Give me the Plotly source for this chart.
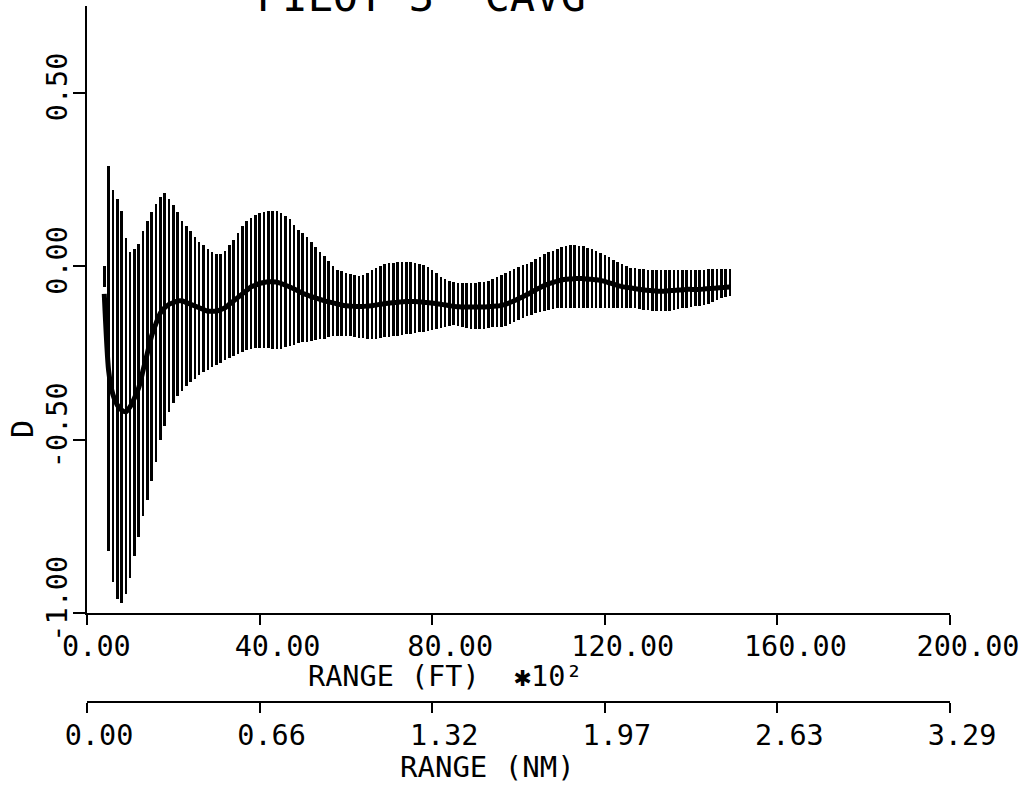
import plotly.graph_objects as go

# Range (ft x 10^2) of each sample
range_ft = list(range(4, 150))

# Upper end of each vertical bar
upper = [
    0.00, 0.29, 0.22, 0.195, 0.16, 0.08, 0.04, 0.05, 0.065, 0.10,
    0.13, 0.155, 0.18, 0.20, 0.21, 0.195, 0.175, 0.155, 0.13, 0.115,
    0.10, 0.085, 0.07, 0.06, 0.05, 0.04, 0.035, 0.035, 0.045, 0.06,
    0.075, 0.095, 0.115, 0.13, 0.14, 0.148, 0.152, 0.156, 0.16, 0.16,
    0.158, 0.152, 0.145, 0.135, 0.12, 0.105, 0.095, 0.085, 0.07, 0.055,
    0.04, 0.03, 0.015, 0.0, -0.01, -0.015, -0.02, -0.022, -0.025, -0.028,
    -0.025, -0.02, -0.012, -0.005, 0.0, 0.005, 0.008, 0.01, 0.012, 0.013,
    0.012, 0.012, 0.01, 0.006, 0.002, -0.003, -0.01, -0.02, -0.03, -0.038,
    -0.042, -0.046, -0.048, -0.05, -0.05, -0.05, -0.049, -0.047, -0.045, -0.042,
    -0.037, -0.032, -0.026, -0.02, -0.014, -0.008, -0.003, 0.002, 0.007, 0.012,
    0.02, 0.027, 0.034, 0.04, 0.045, 0.05, 0.054, 0.058, 0.06, 0.06,
    0.059, 0.057, 0.053, 0.049, 0.044, 0.038, 0.032, 0.025, 0.018, 0.012,
    0.006, 0.0, -0.004, -0.006, -0.008, -0.009, -0.01, -0.01, -0.011, -0.011,
    -0.012, -0.012, -0.012, -0.012, -0.011, -0.011, -0.01, -0.01, -0.01, -0.01,
    -0.009, -0.009, -0.009, -0.008, -0.008, -0.008,
]

# Lower end of each vertical bar
lower = [
    -0.06, -0.82, -0.91, -0.96, -0.97, -0.945, -0.90, -0.835, -0.78, -0.72,
    -0.675, -0.62, -0.565, -0.50, -0.46, -0.42, -0.395, -0.375, -0.36, -0.345,
    -0.335, -0.325, -0.315, -0.305, -0.30, -0.292, -0.285, -0.278, -0.27, -0.265,
    -0.258, -0.252, -0.247, -0.243, -0.24, -0.237, -0.235, -0.235, -0.236, -0.238,
    -0.24, -0.238, -0.234, -0.23, -0.226, -0.222, -0.22, -0.218, -0.215, -0.213,
    -0.211, -0.21, -0.205, -0.20, -0.20, -0.20, -0.20, -0.20, -0.203, -0.206,
    -0.208, -0.21, -0.21, -0.21, -0.208, -0.205, -0.203, -0.20, -0.20, -0.198,
    -0.196, -0.195, -0.193, -0.19, -0.19, -0.188, -0.185, -0.182, -0.178, -0.175,
    -0.172, -0.17, -0.172, -0.175, -0.178, -0.18, -0.18, -0.18, -0.18, -0.178,
    -0.176, -0.175, -0.175, -0.172, -0.168, -0.162, -0.156, -0.15, -0.145, -0.14,
    -0.135, -0.132, -0.128, -0.125, -0.123, -0.121, -0.12, -0.12, -0.12, -0.12,
    -0.12, -0.12, -0.12, -0.12, -0.12, -0.12, -0.12, -0.12, -0.12, -0.12,
    -0.12, -0.12, -0.12, -0.121, -0.123, -0.125, -0.127, -0.128, -0.13, -0.13,
    -0.13, -0.128, -0.126, -0.124, -0.122, -0.12, -0.118, -0.116, -0.115, -0.112,
    -0.108, -0.103, -0.098, -0.093, -0.088, -0.085,
]

# Average curve
mean = [
    -0.08, -0.30, -0.37, -0.40, -0.415, -0.42, -0.405, -0.38, -0.35, -0.30,
    -0.25, -0.20, -0.165, -0.135, -0.12, -0.11, -0.105, -0.10, -0.10, -0.105,
    -0.11, -0.115, -0.12, -0.125, -0.13, -0.13, -0.13, -0.125, -0.12, -0.11,
    -0.10, -0.09, -0.08, -0.07, -0.06, -0.055, -0.05, -0.047, -0.045, -0.045,
    -0.046, -0.05, -0.055, -0.06, -0.066, -0.072, -0.078, -0.083, -0.088, -0.092,
    -0.096, -0.10, -0.103, -0.106, -0.109, -0.112, -0.114, -0.115, -0.116, -0.116,
    -0.116, -0.115, -0.114, -0.112, -0.11, -0.108, -0.106, -0.105, -0.104, -0.103,
    -0.102, -0.102, -0.102, -0.103, -0.104, -0.105, -0.106, -0.108, -0.11, -0.112,
    -0.114, -0.116, -0.117, -0.118, -0.118, -0.118, -0.118, -0.118, -0.118, -0.117,
    -0.116, -0.115, -0.113, -0.11, -0.105, -0.10, -0.094, -0.088, -0.082, -0.075,
    -0.068, -0.062, -0.056, -0.051, -0.047, -0.043, -0.04, -0.038, -0.037, -0.036,
    -0.036, -0.036, -0.037, -0.038, -0.039, -0.041, -0.044, -0.048, -0.052, -0.056,
    -0.059, -0.061, -0.063, -0.065, -0.067, -0.069, -0.07, -0.071, -0.072, -0.072,
    -0.072, -0.071, -0.07, -0.069, -0.068, -0.067, -0.067, -0.067, -0.067, -0.066,
    -0.065, -0.064, -0.063, -0.062, -0.061, -0.06,
]

ft_ticks = [0, 40, 80, 120, 160, 200]
ft_labels = ["0.00", "40.00", "80.00", "120.00", "160.00", "200.00"]
nm_ticks = [0.0, 0.6583, 1.3166, 1.9749, 2.6332, 3.2916]
nm_labels = ["0.00", "0.66", "1.32", "1.97", "2.63", "3.29"]
d_ticks = [-1.0, -0.5, 0.0, 0.5]
d_labels = ["-1.00", "-0.50", "0.00", "0.50"]

FONT = "DejaVu Sans Mono"
NB = "\u00a0"

def pad(labels, n):
    return [s + NB * max(0, n - len(s)) for s in labels]

heights = [u - l for u, l in zip(upper, lower)]

fig = go.Figure()
fig.add_trace(go.Bar(
    x=range_ft, y=heights, base=lower, width=0.6,
    marker=dict(color="black", line=dict(width=0)),
    showlegend=False, hoverinfo="skip",
))
fig.add_trace(go.Scatter(
    x=range_ft, y=mean, mode="lines",
    line=dict(color="black", width=5, shape="spline", smoothing=0.6),
    showlegend=False, hoverinfo="skip",
))
# carrier for the secondary (nautical-mile) axis; draws nothing
fig.add_trace(go.Scatter(
    x=[nm_ticks[0], nm_ticks[-1]], y=[None, None], xaxis="x2", yaxis="y",
    mode="lines", showlegend=False, hoverinfo="skip",
))

W, H = 1034, 786
ml, mr, mt, mb = 87, 84, 6, 84
ph = H - mt - mb
y_dom0 = (H - mb - 613) / ph

def py(pix):
    return (H - mb - pix) / ph

def px(pix):
    return (pix - ml) / (W - ml - mr)

axis_common = dict(
    showline=True, linecolor="black", linewidth=2,
    ticks="outside", tickcolor="black", tickwidth=2,
    showgrid=False, zeroline=False,
    tickfont=dict(family=FONT, size=28.5, color="black"),
)

fig.update_layout(
    width=W, height=H,
    margin=dict(l=ml, r=mr, t=mt, b=mb, pad=0),
    paper_bgcolor="white", plot_bgcolor="white",
    bargap=0,
    xaxis=dict(
        range=[0, 200], domain=[0, 1], anchor="y",
        tickmode="array", tickvals=ft_ticks, ticktext=pad(ft_labels, 5),
        ticklen=10, ticklabelshift=18, ticklabelstandoff=-3,
        **axis_common,
    ),
    xaxis2=dict(
        range=[0, 3.2916], domain=[0, 1], anchor="free", position=0,
        overlaying="x", side="bottom",
        tickmode="array", tickvals=nm_ticks, ticktext=nm_labels,
        ticklen=10, ticklabelshift=12, ticklabelstandoff=-2,
        **axis_common,
    ),
    yaxis=dict(
        range=[-1, 0.75], domain=[y_dom0, 1], anchor="x",
        tickmode="array", tickvals=d_ticks, ticktext=pad(d_labels, 5),
        tickangle=-90, ticklen=12, ticklabelshift=-10, ticklabelstandoff=-5,
        **axis_common,
    ),
    annotations=[
        dict(text="RANGE (FT)  \u273110\u00b2", xref="paper", yref="paper",
             x=px(445), y=py(676), xanchor="center", yanchor="middle",
             showarrow=False, font=dict(family=FONT, size=28.5, color="black")),
        dict(text="RANGE (NM)", xref="paper", yref="paper",
             x=px(487), y=py(767), xanchor="center", yanchor="middle",
             showarrow=False, font=dict(family=FONT, size=29, color="black")),
        dict(text="D", xref="paper", yref="paper",
             x=px(22), y=py(429), xanchor="center", yanchor="middle",
             textangle=-90, showarrow=False,
             font=dict(family=FONT, size=30, color="black")),
        dict(text="PILOT 3  CAVG", xref="paper", yref="paper",
             x=px(255), y=py(23), xanchor="left", yanchor="bottom",
             showarrow=False, font=dict(family=FONT, size=42, color="black")),
    ],
)

fig.write_html("out.html")
